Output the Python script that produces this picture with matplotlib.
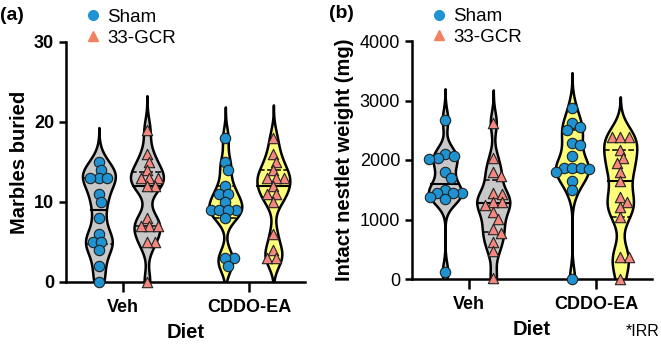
import numpy as np
import matplotlib.pyplot as plt
from matplotlib.lines import Line2D

plt.rcParams['font.family'] = ['Liberation Sans', 'DejaVu Sans']

diets = ['Veh', 'CDDO-EA']
groups = ['Sham', '33-GCR']

# (a) marbles buried
marbles_veh_sham = [15, 14, 13, 13, 13, 11, 10, 8, 6, 5, 5, 4, 2, 0]
marbles_veh_gcr = [19, 16, 15, 14, 13, 13, 13, 12, 12, 8, 7, 7, 7, 5, 5, 0]
marbles_cddo_sham = [18, 15, 14, 12, 11, 11, 10, 9, 9, 9, 9, 8, 3, 3, 2]
marbles_cddo_gcr = [18, 16, 15, 14, 13, 13, 13, 12, 11, 11, 10, 6, 4, 3, 3]

# (b) intact nestlet weight (mg)
nestlet_veh_sham = [2680, 2100, 2070, 2030, 2020, 1800, 1700, 1500, 1450, 1450,
                    1450, 1370, 1350, 110]
nestlet_veh_gcr = [2630, 2030, 1790, 1730, 1440, 1430, 1300, 1290, 1250, 1130,
                   1010, 840, 780, 630, 470, 20]
nestlet_cddo_sham = [2880, 2620, 2550, 2510, 2290, 2250, 2060, 1860, 1860, 1860,
                     1850, 1790, 1640, 1490, 0]
nestlet_cddo_gcr = [2380, 2380, 2380, 2170, 2040, 1950, 1800, 1650, 1370, 1290,
                    1210, 1040, 370, 370, 0]

marbles = [[marbles_veh_sham, marbles_veh_gcr], [marbles_cddo_sham, marbles_cddo_gcr]]
nestlet = [[nestlet_veh_sham, nestlet_veh_gcr], [nestlet_cddo_sham, nestlet_cddo_gcr]]

fill_colors = ['#c9c9c9', '#fdfd7c']
point_colors = ['#1f93d2', '#f4877e']
legend_colors = ['#1f93d2', '#f2825f']
markers = ['o', '^']
offsets = [-0.19, 0.19]
half_width = 0.13


def swarm_x(ax, x0, vals, diam=9.0):
    pts = ax.transData.transform(np.column_stack([np.full(len(vals), x0), vals]))
    px_per_unit = ax.transData.transform((1, 0))[0] - ax.transData.transform((0, 0))[0]
    placed = []
    xs = np.zeros(len(vals))
    cands = [0.0]
    for m in range(1, 60):
        cands += [m * 0.5, -m * 0.5]
    for k in np.argsort(vals)[::-1]:
        y = pts[k, 1]
        for c in cands:
            if all((c - a) ** 2 + (y - b) ** 2 >= (0.92 * diam) ** 2 for a, b in placed):
                break
        placed.append((c, y))
        xs[k] = x0 + c / px_per_unit
    return xs


def violin(ax, pos, vals, color, bw):
    vals = np.asarray(vals, float)
    h = bw * vals.std(ddof=1) * len(vals) ** (-0.2)
    grid = np.linspace(vals.min() - 3 * h, vals.max() + 3 * h, 500)
    dens = np.exp(-0.5 * ((grid[:, None] - vals[None, :]) / h) ** 2).sum(1)
    w = dens / dens.max() * half_width
    ax.fill_betweenx(grid, pos - w, pos + w, facecolor=color, edgecolor='black',
                     linewidth=1.8, zorder=2)
    q1, med, q3 = np.percentile(vals, [25, 50, 75], method='weibull')
    for q, ls, lw in [(med, '-', 1.5), (q1, '--', 1.1), (q3, '--', 1.1)]:
        hw = np.interp(q, grid, w)
        ax.plot([pos - hw, pos + hw], [q, q], color='black', ls=ls, lw=lw, zorder=3)


def panel(ax, data, yticks, ylabel, bold_ticks, bw):
    ax.set_xlim(-0.45, 1.44)
    ax.set_ylim(yticks[0], yticks[-1])
    for i in range(len(diets)):
        for j in range(len(groups)):
            pos = i + offsets[j]
            vals = data[i][j]
            violin(ax, pos, vals, fill_colors[i], bw)
            xs = swarm_x(ax, pos, vals)
            ax.scatter(xs, vals, s=56, marker=markers[j], facecolor=point_colors[j],
                       edgecolor='#222222', linewidth=0.8, zorder=4, clip_on=False)
    for s in ['top', 'right']:
        ax.spines[s].set_visible(False)
    for s in ['left', 'bottom']:
        ax.spines[s].set_linewidth(1.8)
    ax.set_yticks(yticks)
    ax.set_xticks(range(len(diets)))
    ax.set_xticklabels(diets, fontsize=13, fontweight='bold')
    ax.tick_params(axis='both', direction='out', length=5, width=1.8, labelsize=13)
    ax.tick_params(axis='x', length=7, pad=5)
    if bold_ticks:
        for t in ax.get_yticklabels():
            t.set_fontweight('bold')
    ax.set_ylabel(ylabel, fontsize=14.5, fontweight='bold', labelpad=4)
    ax.set_xlabel('Diet', fontsize=14.5, fontweight='bold', labelpad=5)
    handles = [Line2D([], [], ls='none', marker=markers[j], color=legend_colors[j],
                      markersize=7) for j in range(len(groups))]
    ax.legend(handles, groups, loc='upper left', bbox_to_anchor=(0.04, 1.17),
              frameon=False, fontsize=13.5, handletextpad=0.2, labelspacing=0.2,
              handlelength=1.1, borderaxespad=0)


fig = plt.figure(figsize=(6.61, 3.46), dpi=100)
ax_a = fig.add_axes([66 / 661, 1 - 282 / 346, (305 - 66) / 661, (282 - 42) / 346])
ax_b = fig.add_axes([412 / 661, 1 - 279 / 346, (652 - 412) / 661, (279 - 41) / 346])

panel(ax_a, marbles, [0, 10, 20, 30], 'Marbles buried', True, 0.5)
panel(ax_b, nestlet, [0, 1000, 2000, 3000, 4000], 'Intact nestlet weight (mg)', False, 0.5)

fig.text(0.0, 0.955, '(a)', fontsize=14, fontweight='bold', va='center')
fig.text(0.497, 0.962, '(b)', fontsize=14, fontweight='bold', va='center')
fig.text(0.998, 0.02, '*IRR', fontsize=11.5, ha='right', va='bottom')

fig.savefig('out.png', dpi=100)
